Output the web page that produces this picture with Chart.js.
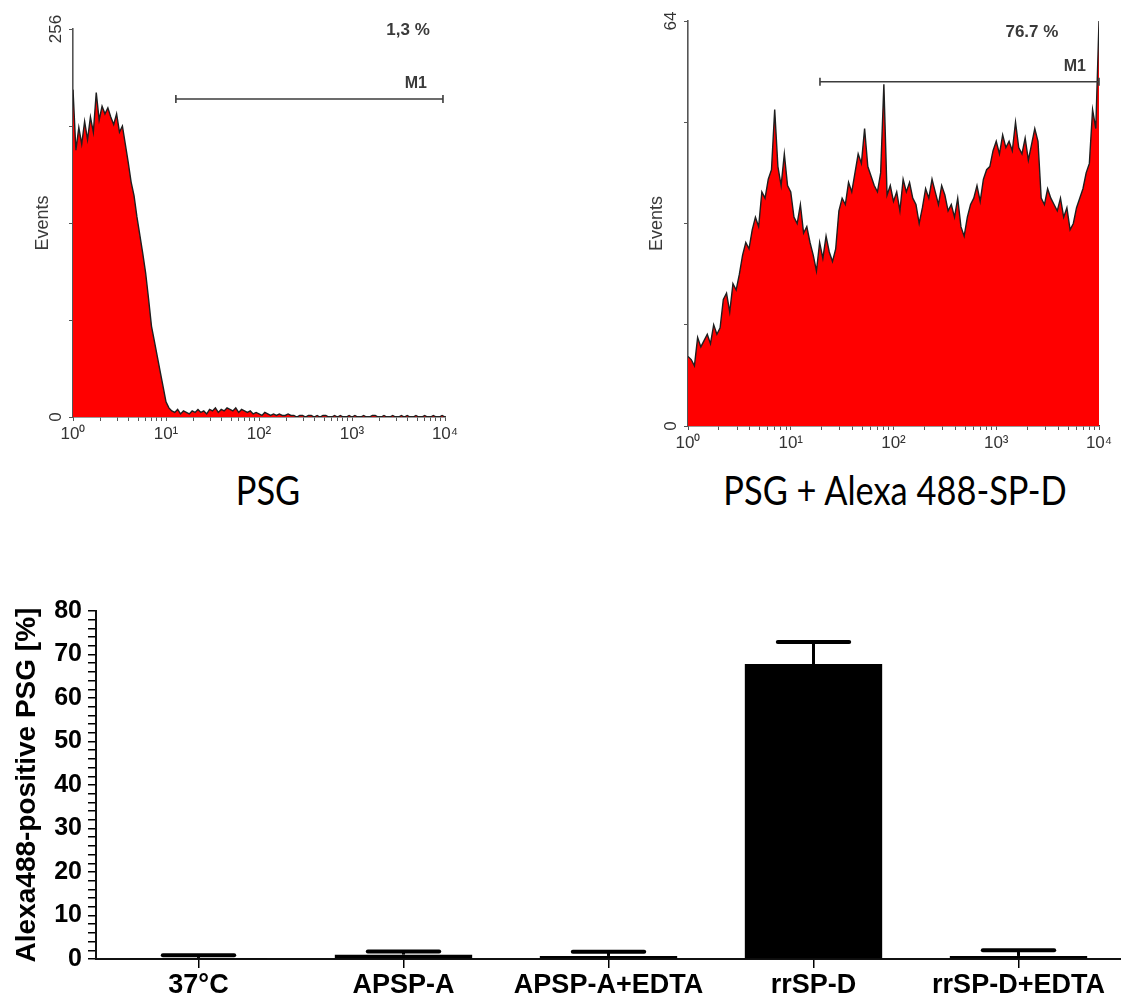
<!DOCTYPE html>
<html>
<head>
<meta charset="utf-8">
<script src="https://cdn.jsdelivr.net/npm/chart.js@4.4.0/dist/chart.umd.min.js"></script>
<style>
  body { margin: 0; background: #fff; width: 1121px; height: 1001px; position: relative; overflow: hidden; }
  canvas { position: absolute; }
  .panel-title {
    position: absolute; text-align: center; white-space: nowrap;
    font-family: Lato, "Open Sans", sans-serif; font-size: 40px; line-height: 40px; color: #000;
    transform: scaleX(0.86);
  }
</style>
</head>
<body>
<canvas id="histPsg" width="560" height="460" style="left:0;top:0"></canvas>
<canvas id="histPsgSpd" width="521" height="460" style="left:600px;top:0"></canvas>
<canvas id="bindingBars" width="1121" height="411" style="left:0;top:590px"></canvas>
<div class="panel-title" style="left:168px;top:470px;width:200px">PSG</div>
<div class="panel-title" style="left:645px;top:470px;width:500px">PSG + Alexa 488-SP-D</div>
<script>
// histogram counts, 32 channels per decade (channel 0 = 10^0, channel 128 = 10^4)
const psgCounts = [
  216, 176, 191, 180, 195, 183, 198, 188, 214, 196, 205, 200, 204, 198, 193, 200,
  188, 192, 180, 168, 155, 146, 132, 120, 108, 95, 78, 60, 50, 40, 30, 20,
  10, 6, 4, 3, 5, 2, 4, 3, 2, 4, 3, 5, 3, 4, 2, 5,
  4, 6, 3, 5, 4, 6, 5, 4, 6, 3, 5, 4, 3, 4, 2, 3,
  2, 1, 3, 2, 1, 2, 1, 2, 1, 1, 2, 1, 1, 0, 1, 1,
  0, 1, 1, 0, 1, 0, 1, 1, 0, 0, 1, 0, 1, 0, 0, 1,
  0, 1, 0, 0, 1, 0, 0, 1, 1, 0, 0, 1, 0, 0, 1, 0,
  0, 1, 0, 1, 0, 0, 1, 0, 0, 1, 0, 0, 1, 0, 0, 1,
  0
];
const psgSpdCounts = [
  11, 10.5, 9.5, 14, 12.5, 13.5, 14.5, 13, 16, 14.5, 15.5, 20, 21, 18, 22.5, 21.5,
  24, 27, 29, 28, 31, 33, 31.5, 37, 36, 39, 40.5, 50, 41, 38, 43, 38,
  37, 33, 32, 35, 30.5, 31.5, 29, 27, 24.5, 29, 26.5, 30, 27.5, 26, 28, 34,
  36, 35, 38.5, 37, 40, 43, 41.5, 47, 41, 39.5, 38, 37, 40, 54, 36.5, 38,
  35.5, 37, 34, 39, 37, 38.5, 36, 35, 32, 34.5, 37.5, 36, 39, 37, 35, 38,
  36.5, 34, 35, 33, 36, 31.5, 30, 33, 35, 36, 38, 35.5, 39, 40.5, 41, 43.5,
  45, 43, 46, 44, 45, 43.5, 48, 44, 43, 45.5, 42, 44.5, 47, 45, 36, 35,
  37.5, 36, 35, 34, 36, 33, 34.5, 31, 32, 34.5, 36, 37.5, 40, 41.5, 50, 47,
  64
];
const decadeLabels = ['10⁰', '10¹', '10²', '10³', '10⁴'];
const channelsPerDecade = 32;

// bar chart
const groups = ['37°C', 'APSP-A', 'APSP-A+EDTA', 'rrSP-D', 'rrSP-D+EDTA'];
const positivePct = [0.25, 1.0, 0.7, 67.8, 0.7];
const positiveErr = [0.6, 0.75, 0.95, 5.1, 1.3];

const smallFont = '"Liberation Sans", Arial, sans-serif';
const boldFont = '"Liberation Sans", Arial, Helvetica, sans-serif';

// log axis: decade ticks plus minor ticks at 2..9
function buildLogTicks(scale) {
  const ticks = [];
  for (let d = 0; d < 4; d++) {
    for (let k = 1; k < 10; k++) {
      ticks.push({ value: channelsPerDecade * (d + Math.log10(k)) });
    }
  }
  ticks.push({ value: channelsPerDecade * 4 });
  scale.ticks = ticks;
}

// M1 gate, percentage and the rotated end labels of the count axis
const gatePlugin = {
  id: 'gate',
  afterDraw(chart, args, opts) {
    const { ctx } = chart;
    const x = chart.scales.x;
    const y = chart.scales.y;
    ctx.save();
    ctx.fillStyle = '#333';
    ctx.font = '17px ' + smallFont;
    ctx.textAlign = 'center';
    ctx.textBaseline = 'middle';
    [0, y.max].forEach(v => {
      ctx.save();
      ctx.translate(y.right - 17, y.getPixelForValue(v));
      ctx.rotate(-Math.PI / 2);
      ctx.fillText(String(v), 0, 0);
      ctx.restore();
    });

    const x0 = x.getPixelForValue(opts.from);
    const x1 = x.getPixelForValue(opts.to);
    const yy = y.getPixelForValue(opts.level);
    ctx.strokeStyle = '#3c3c3c';
    ctx.lineWidth = 1.6;
    ctx.beginPath();
    ctx.moveTo(x0, yy); ctx.lineTo(x1, yy);
    ctx.moveTo(x0, yy - 4); ctx.lineTo(x0, yy + 4);
    ctx.moveTo(x1, yy - 4); ctx.lineTo(x1, yy + 4);
    ctx.stroke();

    ctx.fillStyle = '#3a3a3a';
    ctx.font = 'bold 16px ' + smallFont;
    ctx.textAlign = 'right';
    ctx.textBaseline = 'middle';
    ctx.fillText('M1', x1 - opts.labelInset, yy - 15);
    ctx.font = 'bold 17px ' + smallFont;
    ctx.textAlign = 'center';
    ctx.fillText(opts.pct, x.getPixelForValue(opts.pctAt), opts.pctY);
    ctx.restore();
  }
};

function histogramChart(canvasId, counts, cfg) {
  return new Chart(document.getElementById(canvasId), {
    type: 'line',
    data: {
      datasets: [{
        data: counts.map((c, i) => ({ x: i, y: c })),
        fill: 'origin',
        backgroundColor: '#ff0000',
        borderColor: '#1e1e1e',
        borderWidth: 1.4,
        pointRadius: 0,
        tension: 0
      }]
    },
    options: {
      responsive: false,
      animation: false,
      layout: { autoPadding: false, padding: { top: cfg.top, right: cfg.right, left: 0, bottom: 0 } },
      plugins: { legend: { display: false }, tooltip: { enabled: false }, gate: cfg.gate },
      scales: {
        x: {
          type: 'linear',
          min: 0,
          max: channelsPerDecade * 4,
          afterBuildTicks: buildLogTicks,
          afterFit: s => { s.height = cfg.xHeight; },
          ticks: {
            autoSkip: false,
            maxRotation: 0,
            color: '#333',
            padding: 3,
            font: { family: smallFont, size: 17 },
            callback: v => {
              const d = v / channelsPerDecade;
              return Number.isInteger(d) ? decadeLabels[d] : '';
            }
          },
          grid: { drawOnChartArea: false, tickLength: 4, color: '#555', lineWidth: 1 },
          border: { color: '#3a3a3a', width: 1.6 }
        },
        y: {
          min: 0,
          max: cfg.yMax,
          afterFit: s => { s.width = cfg.yWidth; },
          ticks: { stepSize: cfg.yMax / 4, display: false },
          grid: { drawOnChartArea: false, tickLength: 4, color: '#555', lineWidth: 1 },
          border: { color: '#555', width: 1.6 },
          title: {
            display: true,
            text: 'Events',
            color: '#3a3a3a',
            font: { family: smallFont, size: 18 },
            padding: { top: cfg.titlePad, bottom: 0 }
          }
        }
      }
    },
    plugins: [gatePlugin]
  });
}

histogramChart('histPsg', psgCounts, {
  top: 29, right: 115, xHeight: 43, yWidth: 73, yMax: 256, titlePad: 32,
  gate: { from: 35.4, to: 127.3, level: 209.8, labelInset: 16, pct: '1,3 %', pctAt: 115.3, pctY: 30 }
});

histogramChart('histPsgSpd', psgSpdCounts, {
  top: 21, right: 22, xHeight: 34, yWidth: 88, yMax: 64, titlePad: 46,
  gate: { from: 41.1, to: 128, level: 54.4, labelInset: 13, pct: '76.7 %', pctAt: 107.1, pctY: 32 }
});

// error bars (upper whisker only)
const errorBarPlugin = {
  id: 'errorBars',
  afterDatasetsDraw(chart, args, opts) {
    const { ctx } = chart;
    const y = chart.scales.y;
    const bars = chart.getDatasetMeta(0).data;
    ctx.save();
    ctx.strokeStyle = '#000';
    bars.forEach((bar, i) => {
      const top = y.getPixelForValue(positivePct[i] + opts.values[i]);
      const base = y.getPixelForValue(positivePct[i]);
      const half = bar.width * 0.26;
      ctx.lineWidth = 3;
      ctx.lineCap = 'butt';
      ctx.beginPath();
      ctx.moveTo(bar.x, base);
      ctx.lineTo(bar.x, top);
      ctx.stroke();
      ctx.lineWidth = 4;
      ctx.lineCap = 'round';
      ctx.beginPath();
      ctx.moveTo(bar.x - half, top);
      ctx.lineTo(bar.x + half, top);
      ctx.stroke();
    });
    ctx.restore();
  }
};

new Chart(document.getElementById('bindingBars'), {
  type: 'bar',
  data: {
    labels: groups,
    datasets: [{
      data: positivePct,
      backgroundColor: '#000',
      borderWidth: 0,
      barPercentage: 0.67,
      categoryPercentage: 1
    }]
  },
  options: {
    responsive: false,
    animation: false,
    layout: { autoPadding: false, padding: { top: 21, right: 0, left: 0, bottom: 0 } },
    plugins: {
      legend: { display: false },
      tooltip: { enabled: false },
      errorBars: { values: positiveErr }
    },
    scales: {
      x: {
        afterFit: s => { s.height = 42; },
        grid: { offset: false, drawOnChartArea: false, tickLength: 9, color: '#000', lineWidth: 1.5 },
        border: { color: '#111', width: 2 },
        ticks: {
          color: '#000',
          padding: 1,
          maxRotation: 0,
          autoSkip: false,
          font: { family: boldFont, size: 27, weight: 'bold' }
        }
      },
      y: {
        min: 0,
        max: 80,
        afterFit: s => { s.width = 96; },
        grid: { drawOnChartArea: false, tickLength: 8, color: '#000', lineWidth: 1.5 },
        border: { color: '#111', width: 2 },
        ticks: {
          stepSize: 2,
          autoSkip: false,
          color: '#000',
          padding: 6,
          font: { family: boldFont, size: 25, weight: 'bold' },
          callback: v => (v % 10 === 0 ? v : '')
        },
        title: {
          display: true,
          text: 'Alexa488-positive PSG [%]',
          color: '#000',
          font: { family: boldFont, size: 28, weight: 'bold' },
          padding: { top: 10, bottom: 0 }
        }
      }
    }
  },
  plugins: [errorBarPlugin]
});
</script>
</body>
</html>
